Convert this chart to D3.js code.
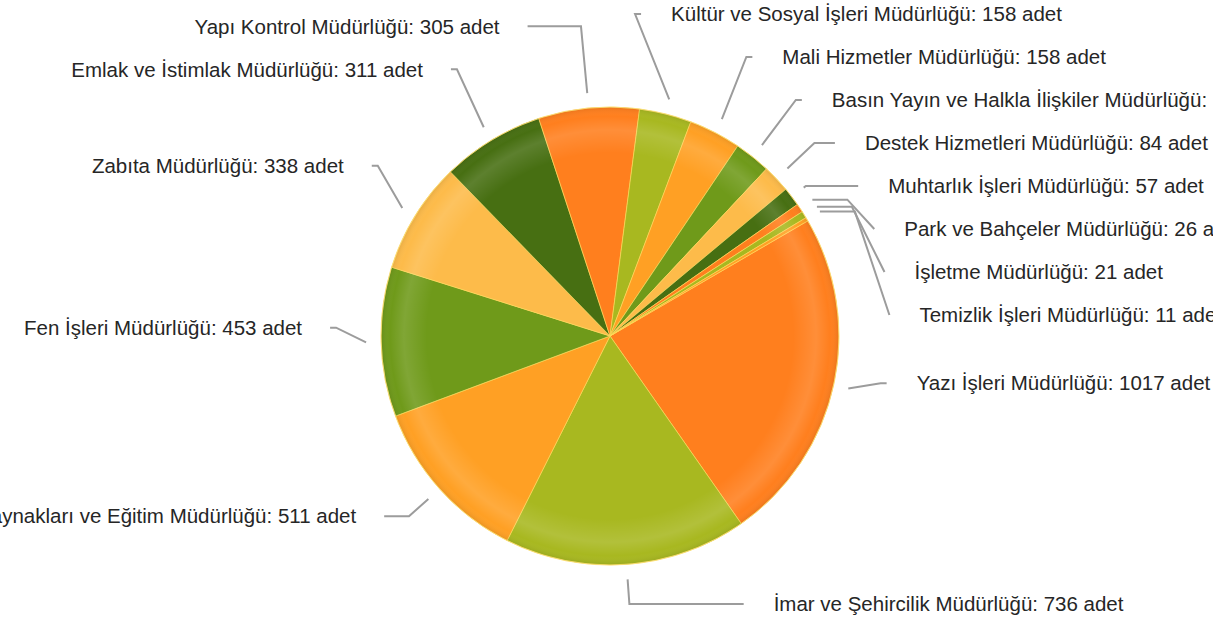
<!DOCTYPE html>
<html>
<head>
<meta charset="utf-8">
<script src="https://cdn.jsdelivr.net/npm/d3@7/dist/d3.min.js"></script>
<style>
  html, body { margin: 0; padding: 0; background: #fff; }
  svg { display: block; }
  .lbl { font-family: "Liberation Sans", Arial, sans-serif; font-size: 20.5px; fill: #262626; }
</style>
</head>
<body>
<div id="chart"></div>
<script>
const names = [
  'Yazı İşleri Müdürlüğü',
  'İmar ve Şehircilik Müdürlüğü',
  'İnsan Kaynakları ve Eğitim Müdürlüğü',
  'Fen İşleri Müdürlüğü',
  'Zabıta Müdürlüğü',
  'Emlak ve İstimlak Müdürlüğü',
  'Yapı Kontrol Müdürlüğü',
  'Kültür ve Sosyal İşleri Müdürlüğü',
  'Mali Hizmetler Müdürlüğü',
  'Basın Yayın ve Halkla İlişkiler Müdürlüğü',
  'Destek Hizmetleri Müdürlüğü',
  'Muhtarlık İşleri Müdürlüğü',
  'Park ve Bahçeler Müdürlüğü',
  'İşletme Müdürlüğü',
  'Temizlik İşleri Müdürlüğü'
];
const values = [1017, 736, 511, 453, 338, 311, 305, 158, 158, 110, 84, 57, 26, 21, 11];
const unit = 'adet';
const palette = ['#ff7f1e', '#a8b820', '#ffa024', '#6f9a1a', '#fdbb4a', '#476f12'];

const width = 1221;
const height = 619;
const cx = 610;
const cy = 336;
const radius = 229;
const startDeg = 59.8;
const labelGap = 43;

const data = names.map((name, i) => ({ name, value: values[i], color: palette[i % palette.length] }));

const svg = d3.select('#chart').append('svg')
  .attr('width', width)
  .attr('height', height);

const defs = svg.append('defs');
defs.append('clipPath').attr('id', 'clip')
  .append('rect').attr('x', 0).attr('y', 0).attr('width', 1213).attr('height', height);

// rim shading to give the pie a bit of depth
const rim = defs.append('radialGradient')
  .attr('id', 'rim')
  .attr('gradientUnits', 'userSpaceOnUse')
  .attr('cx', cx).attr('cy', cy).attr('r', radius);
[
  [0, '#fff', 0],
  [0.8, '#fff', 0],
  [0.9, '#fff', 0.12],
  [0.96, '#fff', 0],
  [1, '#000', 0.08]
].forEach(([o, c, a]) => {
  rim.append('stop').attr('offset', o).attr('stop-color', c).attr('stop-opacity', a);
});

const root = svg.append('g').attr('clip-path', 'url(#clip)');

const start = startDeg * Math.PI / 180;
const pie = d3.pie().sort(null).value(d => d.value)
  .startAngle(start).endAngle(start + 2 * Math.PI);
const arcs = pie(data);
const arc = d3.arc().innerRadius(0).outerRadius(radius);

const pieG = root.append('g').attr('transform', `translate(${cx},${cy})`);
pieG.selectAll('path.slice')
  .data(arcs)
  .join('path')
  .attr('class', 'slice')
  .attr('d', arc)
  .attr('fill', d => d.data.color)
  .attr('stroke', '#ffd95a')
  .attr('stroke-opacity', 0.8)
  .attr('stroke-width', 0.8);

pieG.append('circle')
  .attr('r', radius)
  .attr('fill', 'url(#rim)')
  .attr('transform', `translate(${-cx},${-cy})`)
  .attr('cx', cx).attr('cy', cy);

pieG.append('circle')
  .attr('r', radius)
  .attr('fill', 'none')
  .attr('stroke', '#ffe27a')
  .attr('stroke-opacity', 0.7)
  .attr('stroke-width', 1);

// label layout
const labels = arcs.map(d => {
  const m = ((d.startAngle + d.endAngle) / 2) % (2 * Math.PI);
  return {
    d,
    mid: m,
    right: m < Math.PI,
    target: (cy - 16) - 294 * Math.cos(m)
  };
});

function distribute(items, top, bottom, gap) {
  items.sort((a, b) => a.target - b.target);
  const clusters = items.map(it => ({ items: [it], sum: it.target }));
  const place = c => {
    const n = c.items.length;
    const y0 = c.sum / n - (n - 1) * gap / 2;
    c.y0 = Math.max(top, Math.min(bottom - (n - 1) * gap, y0));
  };
  clusters.forEach(place);
  let merged = true;
  while (merged) {
    merged = false;
    for (let i = 1; i < clusters.length; i++) {
      const a = clusters[i - 1];
      const b = clusters[i];
      if (a.y0 + a.items.length * gap > b.y0) {
        a.items = a.items.concat(b.items);
        a.sum += b.sum;
        place(a);
        clusters.splice(i, 1);
        merged = true;
        break;
      }
    }
  }
  clusters.forEach(c => c.items.forEach((it, i) => { it.y = c.y0 + i * gap; }));
}

distribute(labels.filter(l => l.right), 14, 604, labelGap);
distribute(labels.filter(l => !l.right), 14, 604, labelGap);

labels.forEach(l => {
  const dir = l.right ? 1 : -1;
  const dy = l.y - cy;
  const b = dy < 0 ? 324 : 305;
  const f = Math.sqrt(Math.max(0, 1 - (dy / b) * (dy / b)));
  const ex = cx + dir * 280 * f;
  const s = Math.sin(l.mid);
  const c = -Math.cos(l.mid);
  const L = [cx + (radius + 15) * s, cy + (radius + 15) * c];
  const t = Math.abs(c) > 1e-3 ? (l.y - L[1]) / c : -1;
  let pts;
  if (t >= 0) {
    let bx = L[0] + t * s;
    bx = l.right ? Math.min(bx, ex - 6) : Math.max(bx, ex + 6);
    pts = [L, [bx, l.y], [ex, l.y]];
  } else if (Math.abs(l.y - L[1]) > 20) {
    pts = [L, [L[0] + dir * 35, L[1]], [ex, l.y]];
  } else {
    pts = [L, [ex - dir * 6, l.y], [ex, l.y]];
  }
  l.pts = pts;
  l.tx = ex + (l.right ? 30 : -28);
});

root.append('g').selectAll('path.tick')
  .data(labels)
  .join('path')
  .attr('class', 'tick')
  .attr('d', l => d3.line()(l.pts))
  .attr('fill', 'none')
  .attr('stroke', '#9c9c9c')
  .attr('stroke-width', 2);

root.append('g').selectAll('text.lbl')
  .data(labels)
  .join('text')
  .attr('class', 'lbl')
  .attr('x', l => l.tx)
  .attr('y', l => l.y)
  .attr('dy', '0.35em')
  .attr('text-anchor', l => l.right ? 'start' : 'end')
  .text(l => `${l.d.data.name}: ${l.d.data.value} ${unit}`);
</script>
</body>
</html>
